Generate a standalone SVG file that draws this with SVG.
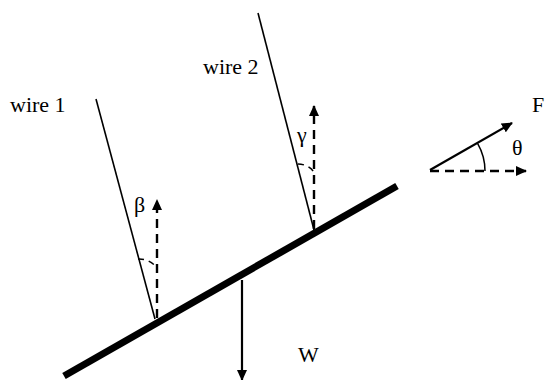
<svg xmlns="http://www.w3.org/2000/svg" width="550" height="380" viewBox="0 0 550 380">
  <style>
    text { font-family: 'Liberation Serif', 'DejaVu Serif', 'Times New Roman', serif; font-size: 22px; fill: #000; }
    .wire { stroke: #000; stroke-width: 1.6; fill: none; }
    .dash { stroke: #000; stroke-width: 2.4; stroke-dasharray: 9 6; fill: none; }
    .solid { stroke: #000; stroke-width: 2.2; fill: none; }
    .arc { stroke: #000; stroke-width: 1.5; fill: none; }
    .tick { stroke: #000; stroke-width: 1.5; stroke-dasharray: 6 5; fill: none; }
  </style>
  <defs>
    <marker id="ah" markerUnits="userSpaceOnUse" markerWidth="11" markerHeight="10" refX="10" refY="5" orient="auto">
      <path d="M0,0 L11,5 L0,10 z" fill="#000"/>
    </marker>
  </defs>

  <g id="bar">
    <line x1="64" y1="376" x2="397" y2="186" stroke="#000" stroke-width="7"/>
  </g>

  <g id="wire1">
    <line class="wire" x1="96" y1="99" x2="155" y2="319"/>
    <text font-family="Liberation Serif, serif" x="10" y="112">wire 1</text>
  </g>

  <g id="wire2">
    <line class="wire" x1="258" y1="13" x2="314" y2="230"/>
    <text font-family="Liberation Serif, serif" x="203" y="74">wire 2</text>
  </g>

  <g id="connectors">
    <line class="dash" x1="157" y1="318" x2="157" y2="200" marker-end="url(#ah)"/>
    <line class="dash" x1="314" y1="229" x2="314" y2="106" marker-end="url(#ah)"/>
    <line class="solid" x1="242" y1="280" x2="242" y2="380" marker-end="url(#ah)"/>
    <line class="solid" x1="430" y1="170" x2="512" y2="123" marker-end="url(#ah)"/>
    <line class="dash" x1="430" y1="171" x2="526" y2="171" marker-end="url(#ah)"/>
  </g>

  <g id="angle-beta">
    <path class="tick" d="M138,259 A22 22 0 0 1 157,268"/>
    <text font-family="Liberation Serif, serif" x="134" y="212">β</text>
  </g>

  <g id="angle-gamma">
    <path class="tick" d="M298,164 A20 20 0 0 1 314,172"/>
    <text font-family="Liberation Serif, serif" x="297" y="142">γ</text>
  </g>

  <g id="angle-theta">
    <path class="arc" d="M477.7,143.7 A55 55 0 0 1 485,171"/>
    <text font-family="Liberation Serif, serif" x="512" y="155">θ</text>
  </g>

  <g id="label-F">
    <text font-family="Liberation Serif, serif" x="532" y="112">F</text>
  </g>

  <g id="label-W">
    <text font-family="Liberation Serif, serif" x="298" y="362">W</text>
  </g>
</svg>
